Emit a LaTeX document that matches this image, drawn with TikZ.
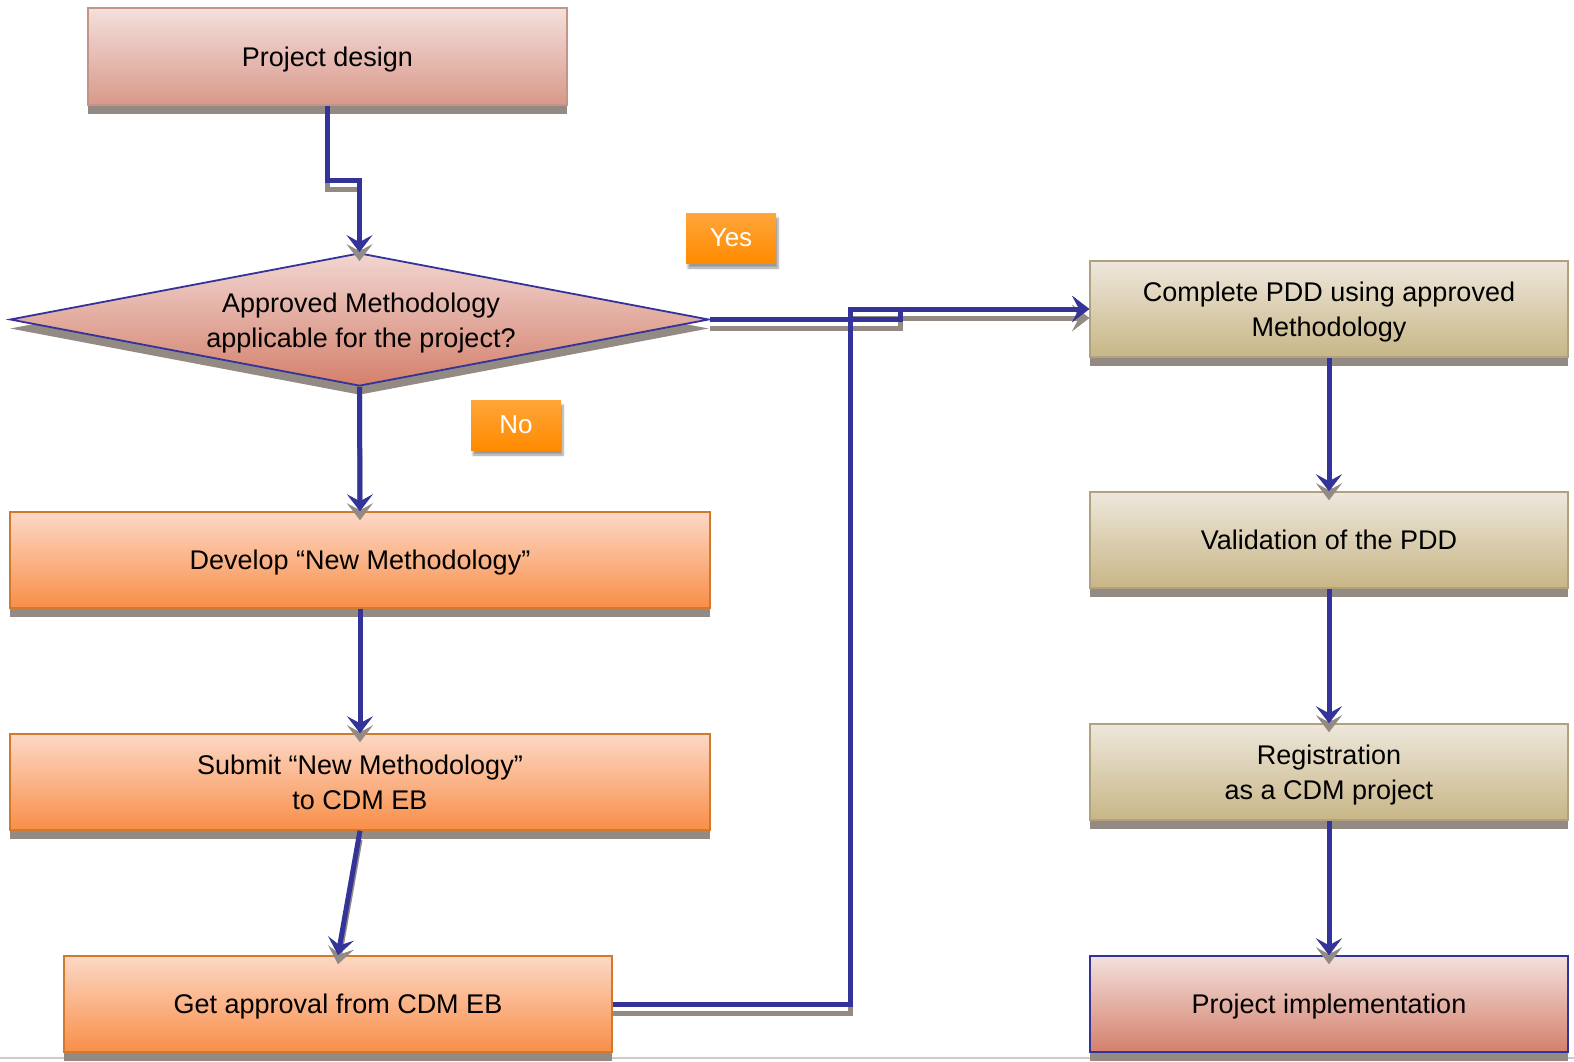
\documentclass[tikz,border=0pt]{standalone}
\usepackage{fontspec}
\setmainfont{Liberation Sans}
\usetikzlibrary{shapes.geometric,shadows,shadows.blur,arrows.meta}
\definecolor{cblue}{HTML}{333399}
\definecolor{shgrey}{HTML}{948A84}
\definecolor{pinktop}{HTML}{F3E0DC}
\definecolor{pinkbot}{HTML}{D9988A}
\definecolor{pinkline}{HTML}{C49488}
\definecolor{diatop}{HTML}{F1D6D1}
\definecolor{diabot}{HTML}{D4806C}
\definecolor{orgtop}{HTML}{FCD8C6}
\definecolor{orgbot}{HTML}{F98E48}
\definecolor{orgline}{HTML}{D27A2C}
\definecolor{tantop}{HTML}{EEE7DC}
\definecolor{tanbot}{HTML}{C8B686}
\definecolor{tanline}{HTML}{AFA27C}
\definecolor{lbltop}{HTML}{FFA63A}
\definecolor{lblbot}{HTML}{FF8A00}
\begin{document}
\begin{tikzpicture}[x=1pt,y=-1pt,font=\fontsize{27}{35}\selectfont,
  flowbox/.style={rectangle,minimum width=#1,minimum height=96pt,inner sep=0pt,align=center,
    text depth=0pt,line width=1.5pt,general shadow={fill=shgrey,shadow xshift=0pt,shadow yshift=-9pt}},
  pinkbox/.style={flowbox=#1,draw=pinkline,top color=pinktop,bottom color=pinkbot},
  orgbox/.style={flowbox=#1,draw=orgline,top color=orgtop,bottom color=orgbot},
  tanbox/.style={flowbox=#1,draw=tanline,top color=tantop,bottom color=tanbot},
  implbox/.style={flowbox=#1,draw=cblue,top color=pinktop,bottom color=diabot},
  lbl/.style={rectangle,minimum width=90pt,minimum height=50pt,inner sep=0pt,text depth=0pt,
    top color=lbltop,bottom color=lblbot,text=white,font=\fontsize{26}{30}\selectfont,
    blur shadow={shadow xshift=2pt,shadow yshift=-5pt,shadow blur steps=6}},
  conn/.style={draw=cblue,line width=5pt,-{Stealth[length=17pt,width=26pt,inset=7pt]}},
  connsh/.style={draw=shgrey,line width=5pt,-{Stealth[length=17pt,width=26pt,inset=7pt]},
    transform canvas={yshift=-9pt}}
]
\useasboundingbox (0,0) rectangle (1574,1062);
\draw[black!20,line width=2pt] (0,1058) -- (1574,1058);

\node[pinkbox=479pt,minimum height=97pt] (pd) at (327.5,56.5) {Project design};
\node[diamond,minimum width=699pt,minimum height=133pt,inner sep=0pt,draw=cblue,line width=1.8pt,
  top color=diatop,bottom color=diabot,
  general shadow={fill=shgrey,shadow xshift=0pt,shadow yshift=-9pt}] (dia) at (359.5,319.5) {};
\node[align=center,text depth=0pt] (dtext) at (361,320.5) {Approved Methodology\\applicable for the project?};
\node[orgbox=700pt] (dev) at (360,560) {Develop “New Methodology”};
\node[orgbox=700pt] (sub) at (360,782) {Submit “New Methodology”\\to CDM EB};
\node[orgbox=548pt] (get) at (338,1004) {Get approval from CDM EB};
\node[tanbox=478pt] (cpdd) at (1329,309) {Complete PDD using approved\\Methodology};
\node[tanbox=478pt] (val) at (1329,540) {Validation of the PDD};
\node[tanbox=478pt] (reg) at (1329,772) {Registration\\as a CDM project};
\node[implbox=478pt] (impl) at (1329,1004) {Project implementation};
\node[lbl] (yes) at (731,238) {Yes};
\node[lbl] (no) at (516,425) {No};

\coordinate (ya) at (900,0);
\coordinate (ga) at (850,0);

% shadows of connectors
\draw[connsh] (pd.south) -- ++(0,75) -| (dia.north);
\draw[connsh] (dia.east) -- (dia.east -| ya) |- (cpdd.west);
\draw[connsh] (get.east) -- (get.east -| ga) |- (cpdd.west);
\draw[connsh] (dia.south) -- (dev.north);
\draw[connsh] (dev.south) -- (sub.north);
\draw[connsh] (sub.south) -- (get.north);
\draw[connsh] (cpdd.south) -- (val.north);
\draw[connsh] (val.south) -- (reg.north);
\draw[connsh] (reg.south) -- (impl.north);
% connectors
\draw[conn] (pd.south) -- ++(0,75) -| (dia.north);
\draw[conn] (dia.east) -- (dia.east -| ya) |- (cpdd.west);
\draw[conn] (get.east) -- (get.east -| ga) |- (cpdd.west);
\draw[conn] (dia.south) -- (dev.north);
\draw[conn] (dev.south) -- (sub.north);
\draw[conn] (sub.south) -- (get.north);
\draw[conn] (cpdd.south) -- (val.north);
\draw[conn] (val.south) -- (reg.north);
\draw[conn] (reg.south) -- (impl.north);
\end{tikzpicture}
\end{document}
